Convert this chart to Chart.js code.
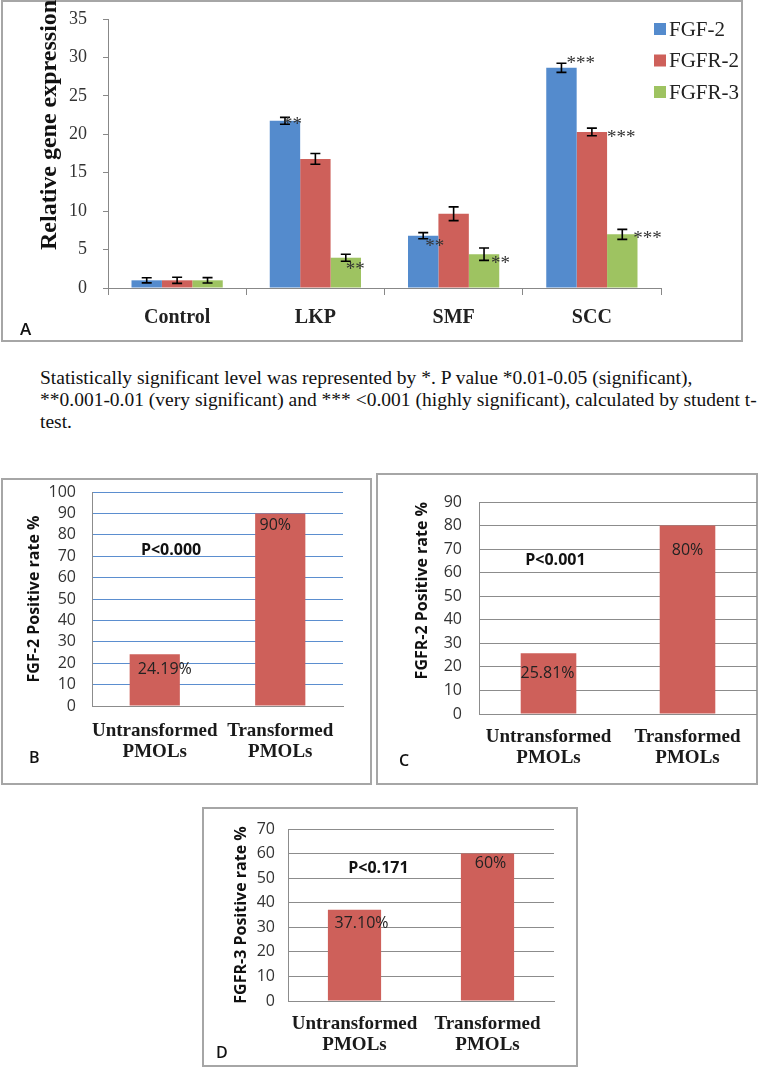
<!DOCTYPE html>
<html>
<head>
<meta charset="utf-8">
<script src="https://cdn.jsdelivr.net/npm/chart.js@4.4.0/dist/chart.umd.min.js"></script>
<style>
  body { margin: 0; background: #fff; width: 772px; height: 1067px; position: relative; overflow: hidden; }
  .box { position: absolute; box-sizing: border-box; border: 2px solid #a6a6a6; }
  canvas { position: absolute; }
  .tag { position: absolute; font-family: "Open Sans", sans-serif; font-weight: 600; font-size: 16px; color: #111; line-height: 1; }
  .note { position: absolute; left: 40px; top: 367px; width: 732px; font-family: "Liberation Serif", "DejaVu Serif", serif; font-size: 19.5px; line-height: 22px; color: #111; white-space: nowrap; }
</style>
</head>
<body>
<div class="box" style="left:1px; top:0px; width:742px; height:342px;"></div>
<div class="box" style="left:1px; top:478px; width:371px; height:307px;"></div>
<div class="box" style="left:376px; top:473px; width:382px; height:312px;"></div>
<div class="box" style="left:202px; top:807px; width:376px; height:260px;"></div>

<canvas id="chartA" width="744" height="342" style="left:0; top:0;"></canvas>
<canvas id="chartB" width="369" height="305" style="left:2px; top:479px;"></canvas>
<canvas id="chartC" width="380" height="310" style="left:377px; top:474px;"></canvas>
<canvas id="chartD" width="374" height="258" style="left:203px; top:808px;"></canvas>

<div class="tag" style="left:20px; top:320px; font-size:17px;">A</div>
<div class="tag" style="left:29px; top:749px;">B</div>
<div class="tag" style="left:399px; top:752px;">C</div>
<div class="tag" style="left:216px; top:1044px;">D</div>

<div class="note">Statistically significant level was represented by *. P value *0.01-0.05 (significant),<br>**0.001-0.01 (very significant) and *** &lt;0.001 (highly significant), calculated by student t-<br>test.</div>

<script>
// panel A data
const groups = ['Control', 'LKP', 'SMF', 'SCC'];
const seriesNames = ['FGF-2', 'FGFR-2', 'FGFR-3'];
const fgf2 = [1.0, 21.75, 6.8, 28.65];
const fgfr2 = [1.0, 16.8, 9.66, 20.3];
const fgfr3 = [1.0, 3.94, 4.4, 6.98];
const fgf2Err = [0.33, 0.45, 0.4, 0.6];
const fgfr2Err = [0.4, 0.7, 0.9, 0.5];
const fgfr3Err = [0.35, 0.45, 0.8, 0.65];
const fgf2Stars = ['', '**', '**', '***'];
const fgfr2Stars = ['', '', '', '***'];
const fgfr3Stars = ['', '**', '**', '***'];

// panels B, C, D data
const pmolGroups = [['Untransformed', 'PMOLs'], ['Transformed', 'PMOLs']];
const fgf2Rate = [24.19, 90];
const fgfr2Rate = [25.81, 80];
const fgfr3Rate = [37.10, 60];
const pValues = ['P<0.000', 'P<0.001', 'P<0.171'];

const BLUE = '#548bcd';
const RED = '#ce605a';
const GREEN = '#9ec361';
const SERIF = '"Liberation Serif", "DejaVu Serif", serif';
const SANS = '"Open Sans", sans-serif';

// label offsets for the asterisks [dx, dy] from the bar top, px
const starOffsets = [
    [[0, 0], [-2, -1], [2, 6], [5, -9]],
    [[0, 0], [0, 0], [0, 0], [15, 1]],
    [[0, 0], [0, 7], [7, 5], [11, 0]]
];

// keep the tick-label padding from pushing the plot area down
function tightY(scale) {
    scale.paddingTop = 8;
    scale.paddingBottom = 8;
}

const errorBars = {
    id: 'errorBars',
    afterDatasetsDraw(chart, args, opts) {
        const {ctx} = chart;
        const y = chart.scales.y;
        ctx.save();
        ctx.strokeStyle = '#000';
        ctx.lineWidth = 1.6;
        chart.data.datasets.forEach((ds, d) => {
            chart.getDatasetMeta(d).data.forEach((bar, i) => {
                const v = ds.data[i], e = ds.errors[i];
                const top = y.getPixelForValue(v + e);
                const bot = y.getPixelForValue(v - e);
                ctx.beginPath();
                ctx.moveTo(bar.x, top); ctx.lineTo(bar.x, bot);
                ctx.moveTo(bar.x - 5, top); ctx.lineTo(bar.x + 5, top);
                ctx.moveTo(bar.x - 5, bot); ctx.lineTo(bar.x + 5, bot);
                ctx.stroke();
            });
        });
        // significance stars
        ctx.font = '19px ' + SERIF;
        ctx.fillStyle = '#333';
        ctx.textAlign = 'left';
        ctx.textBaseline = 'alphabetic';
        chart.data.datasets.forEach((ds, d) => {
            chart.getDatasetMeta(d).data.forEach((bar, i) => {
                const s = ds.stars[i];
                if (!s) return;
                const off = starOffsets[d][i];
                ctx.fillText(s, bar.x + off[0], bar.y + off[1] + 10);
            });
        });
        // legend
        ctx.font = '21px ' + SERIF;
        ctx.textBaseline = 'middle';
        chart.data.datasets.forEach((ds, d) => {
            const cy = 29 + d * 31.5;
            ctx.fillStyle = ds.backgroundColor;
            ctx.fillRect(654, cy - 6, 12, 12);
            ctx.fillStyle = '#222';
            ctx.fillText(ds.label, 669, cy + 1);
        });
        // y title, drawn off-centre as in the figure
        ctx.font = 'bold 24px ' + SERIF;
        ctx.fillStyle = '#111';
        ctx.translate(50, 250);
        ctx.rotate(-Math.PI / 2);
        ctx.textAlign = 'left';
        ctx.fillText('Relative gene expression', 0, 0);
        ctx.restore();
    }
};

new Chart(document.getElementById('chartA'), {
    type: 'bar',
    data: {
        labels: groups,
        datasets: [
            { label: seriesNames[0], data: fgf2, errors: fgf2Err, stars: fgf2Stars, backgroundColor: BLUE },
            { label: seriesNames[1], data: fgfr2, errors: fgfr2Err, stars: fgfr2Stars, backgroundColor: RED },
            { label: seriesNames[2], data: fgfr3, errors: fgfr3Err, stars: fgfr3Stars, backgroundColor: GREEN }
        ]
    },
    options: {
        responsive: false,
        animation: false,
        layout: { padding: { left: 0, top: 19, right: 83, bottom: 0 } },
        datasets: { bar: { barPercentage: 1, categoryPercentage: 0.66 } },
        plugins: { legend: { display: false }, tooltip: { enabled: false } },
        scales: {
            x: {
                grid: { drawOnChartArea: false, drawTicks: true, tickLength: 7, color: '#888' },
                border: { color: '#888' },
                ticks: { padding: 11, color: '#222', maxRotation: 0, autoSkip: false, font: { family: SERIF, size: 20, weight: 'bold' } },
                afterFit(scale) { scale.height = 54; }
            },
            y: {
                min: 0, max: 35,
                grid: { drawOnChartArea: false, drawTicks: true, tickLength: 5, color: '#888' },
                border: { color: '#888' },
                ticks: { stepSize: 5, padding: 16, autoSkip: false, color: '#333', font: { family: SERIF, size: 18 } },
                afterFit(scale) { scale.width = 108; tightY(scale); }
            }
        }
    },
    plugins: [errorBars]
});

const rateLabels = {
    id: 'rateLabels',
    afterDatasetsDraw(chart, args, opts) {
        const {ctx} = chart;
        const values = chart.data.datasets[0].data;
        ctx.save();
        ctx.fillStyle = '#222';
        ctx.textAlign = 'center';
        ctx.textBaseline = 'middle';
        ctx.font = '16px ' + SANS;
        chart.getDatasetMeta(0).data.forEach((bar, i) => {
            const v = values[i];
            const txt = (Number.isInteger(v) ? String(v) : v.toFixed(2)) + '%';
            ctx.fillText(txt, bar.x + opts.dx[i], bar.y + opts.dy[i]);
        });
        ctx.fillStyle = '#111';
        ctx.font = 'bold 16px ' + SANS;
        ctx.fillText(opts.p, chart.scales.x.getPixelForValue(opts.pAt[0]), chart.scales.y.getPixelForValue(opts.pAt[1]));
        ctx.restore();
    }
};

function rateChart(id, values, title, cfg) {
    return new Chart(document.getElementById(id), {
        type: 'bar',
        data: {
            labels: pmolGroups,
            datasets: [{ data: values, backgroundColor: RED }]
        },
        options: {
            responsive: false,
            animation: false,
            layout: { padding: { left: 0, top: cfg.top, right: cfg.right, bottom: 0 } },
            datasets: { bar: { barPercentage: 1, categoryPercentage: 0.4 } },
            plugins: { legend: { display: false }, tooltip: { enabled: false }, rateLabels: cfg.labels },
            scales: {
                x: {
                    grid: { display: false, drawTicks: false },
                    border: { color: '#8c8c8c' },
                    ticks: { padding: cfg.xPad, color: '#1a1a1a', maxRotation: 0, minRotation: 0, autoSkip: false,
                             font: { family: SERIF, size: 19, weight: 'bold', lineHeight: 1.1 } },
                    afterFit(scale) { scale.height = cfg.xh; }
                },
                y: {
                    min: 0, max: cfg.max,
                    grid: { color: cfg.gridColor, drawTicks: false },
                    border: { color: '#8c8c8c' },
                    ticks: { stepSize: 10, autoSkip: false, padding: cfg.yPad, color: '#333', font: { family: SANS, size: 16, lineHeight: 1 } },
                    title: {
                        display: true, text: title, align: cfg.align || 'center', color: '#111',
                        font: { family: SANS, size: 16, weight: 'bold' },
                        padding: { top: cfg.titlePad, bottom: 0 }
                    },
                    afterFit(scale) { scale.width = cfg.yw; tightY(scale); }
                }
            }
        },
        plugins: [rateLabels]
    });
}

rateChart('chartB', fgf2Rate, 'FGF-2 Positive rate %', {
    top: 13, right: 28, xh: 78, yw: 90, max: 100, gridColor: '#5b8ecf',
    xPad: 15, yPad: 16, titlePad: 23,
    labels: { dx: [10, -5], dy: [15, 12], p: pValues[0], pAt: [0.13, 72.6] }
});
rateChart('chartC', fgfr2Rate, 'FGFR-2 Positive rate %', {
    top: 28, right: 0, xh: 70, yw: 102, max: 90, gridColor: '#8c8c8c',
    xPad: 13, yPad: 17, titlePad: 36, align: 'end',
    labels: { dx: [-1, 0], dy: [20, 25], p: pValues[1], pAt: [0.05, 65.4] }
});
rateChart('chartD', fgfr3Rate, 'FGFR-3 Positive rate %', {
    top: 21, right: 23, xh: 65, yw: 85, max: 70, gridColor: '#8c8c8c',
    xPad: 13, yPad: 13, titlePad: 29,
    labels: { dx: [7, 3], dy: [14, 10], p: pValues[2], pAt: [0.18, 54.1] }
});
</script>
</body>
</html>
